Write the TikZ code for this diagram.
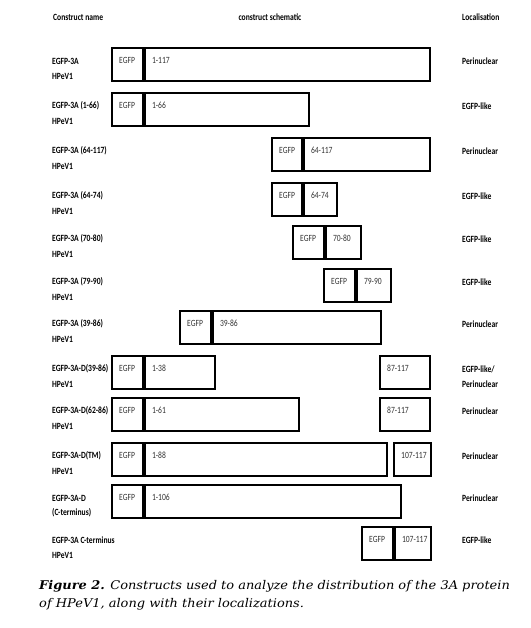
\documentclass[tikz,border=0pt]{standalone}
\usepackage{fontspec}
\newfontfamily\labfont[FakeStretch=0.8]{Carlito}
\newfontfamily\capfont[FakeStretch=1.08]{DejaVu Serif}
\tikzset{
  seg/.style={draw, line width=2pt, rectangle, inner sep=0pt, outer sep=0pt, anchor=north west, minimum height=33pt},
  segtxt/.style={font=\labfont\fontsize{9.5}{11}\selectfont, text=black!80, anchor=west, inner sep=0pt},
  lab/.style={font=\labfont\bfseries\fontsize{9.5}{11}\selectfont, anchor=west, inner sep=0pt},
  captxt/.style={font=\capfont\itshape\fontsize{12}{14}\selectfont, anchor=base west, inner sep=0pt},
}
\newcommand\cseg[5]{% name, x0, x1, ytop, text
  \node[seg, minimum width={(#3)-(#2)}] (#1) at (#2,#4) {};
  \node[segtxt] (#1t) at ([xshift=7pt,yshift=-12pt]#1.north west) {#5};
}
\newcommand\crow[9]{% id, ytop, egfp x0, div, x1, frag text, label1, label2, loc
  \cseg{#1e}{#3}{#4-0.8}{#2}{EGFP}
  \cseg{#1f}{#4+0.8}{#5}{#2}{#6}
  \node[lab] (#1l1) at (52,#2+13) {#7};
  \node[lab] (#1l2) at (52,#2+28) {#8};
  \node[lab] (#1loc) at (462,#2+13) {#9};
}
\begin{document}
\begin{tikzpicture}[x=1pt,y=-1pt]
\useasboundingbox (0,0) rectangle (530,628);
% headers
\node[lab] (h1) at (53,17) {Construct name};
\node[lab, anchor=center] (h2) at (270,17) {construct schematic};
\node[lab] (h3) at (462,17) {Localisation};
% rows
\crow{r1}{48}{112}{144}{430}{1-117}{EGFP-3A}{HPeV1}{Perinuclear}
\crow{r2}{93}{112}{144}{309}{1-66}{EGFP-3A (1-66)}{HPeV1}{EGFP-like}
\crow{r3}{138}{272}{303}{430}{64-117}{EGFP-3A (64-117)}{HPeV1}{Perinuclear}
\crow{r4}{183}{272}{303}{337}{64-74}{EGFP-3A (64-74)}{HPeV1}{EGFP-like}
\crow{r5}{226}{293}{325}{361}{70-80}{EGFP-3A (70-80)}{HPeV1}{EGFP-like}
\crow{r6}{269}{324}{356}{391}{79-90}{EGFP-3A (79-90)}{HPeV1}{EGFP-like}
\crow{r7}{311}{180}{212}{381}{39-86}{EGFP-3A (39-86)}{HPeV1}{Perinuclear}
\crow{r8}{356}{112}{144}{215}{1-38}{EGFP-3A-D(39-86)}{HPeV1}{EGFP-like/}
\node[lab] (r8loc2) at (462,356+28) {Perinuclear};
\cseg{r8c}{380}{430}{356}{87-117}
\crow{r9}{398}{112}{144}{299}{1-61}{EGFP-3A-D(62-86)}{HPeV1}{Perinuclear}
\cseg{r9c}{380}{430}{398}{87-117}
\crow{r10}{443}{112}{144}{387}{1-88}{EGFP-3A-D(TM)}{HPeV1}{Perinuclear}
\cseg{r10c}{394}{431}{443}{107-117}
\crow{r11}{485}{112}{144}{401}{1-106}{EGFP-3A-D}{(C-terminus)}{Perinuclear}
\crow{r12}{527}{362}{394}{431}{107-117}{EGFP-3A C-terminus}{HPeV1}{EGFP-like}
% caption
\node[captxt] (c1) at (39,589) {\textbf{Figure 2.} Constructs used to analyze the distribution of the 3A protein};
\node[captxt] (c2) at (39,607) {of HPeV1, along with their localizations.};
\end{tikzpicture}
\end{document}
